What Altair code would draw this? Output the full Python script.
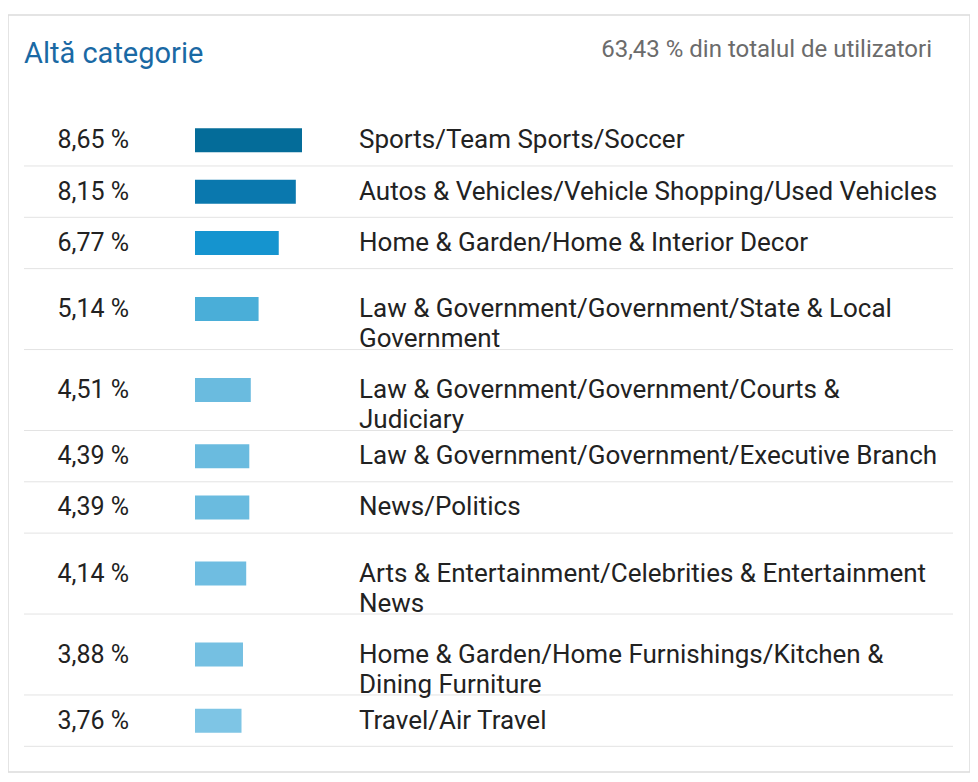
import altair as alt
import pandas as pd

pcts = [8.65, 8.15, 6.77, 5.14, 4.51, 4.39, 4.39, 4.14, 3.88, 3.76]
labels = [
    "Sports/Team Sports/Soccer",
    "Autos & Vehicles/Vehicle Shopping/Used Vehicles",
    "Home & Garden/Home & Interior Decor",
    "Law & Government/Government/State & Local\nGovernment",
    "Law & Government/Government/Courts &\nJudiciary",
    "Law & Government/Government/Executive Branch",
    "News/Politics",
    "Arts & Entertainment/Celebrities & Entertainment\nNews",
    "Home & Garden/Home Furnishings/Kitchen &\nDining Furniture",
    "Travel/Air Travel",
]
colors = ["#046c99", "#0a78ae", "#1594cf", "#4aaed8", "#6abbdf", "#6abbdf",
          "#6abbdf", "#6fbde1", "#75c0e2", "#7ec5e5"]

W, H = 962, 766  # drawing area inside the 8px page margin
FONT = "Roboto"

lines = [l.count("\n") + 1 for l in labels]
heights = [22 + 30 * n for n in lines]
tops = [103]
for h in heights[:-1]:
    tops.append(tops[-1] + h)
df = pd.DataFrame({
    "pct": pcts,
    "label": labels,
    "color": colors,
    "pct_txt": [f"{p:.2f} %".replace(".", ",") for p in pcts],
    "mid": [t + h / 2 for t, h in zip(tops, heights)],
    "bottom": [t + h for t, h in zip(tops, heights)],
})

ys = alt.Scale(domain=[0, H], range=[0, H])
base = alt.Chart(df)

frame = alt.Chart(pd.DataFrame({"a": [0]})).mark_rect(
    fill="white", stroke="#dcdcdc", strokeWidth=1.5
).encode(x=alt.value(0), x2=alt.value(962), y=alt.value(7), y2=alt.value(764))

title = alt.Chart(pd.DataFrame({"t": ["Altă categorie"]})).mark_text(
    font=FONT, fontSize=29, color="#1a69a4", align="left", baseline="middle"
).encode(text="t:N", x=alt.value(16), y=alt.value(46))

total = alt.Chart(pd.DataFrame({"t": ["63,43 % din totalul de utilizatori"]})).mark_text(
    font=FONT, fontSize=24, color="#6b6b6b", align="right", baseline="middle"
).encode(text="t:N", x=alt.value(924), y=alt.value(42))

seps = base.mark_rule(color="#e3e3e3", strokeWidth=1).encode(
    y=alt.Y("bottom:Q", scale=ys, axis=None), x=alt.value(16), x2=alt.value(945)
)

pct_text = base.mark_text(
    font=FONT, fontSize=25, color="#222", align="right", baseline="middle"
).encode(text="pct_txt:N", x=alt.value(121), y=alt.Y("mid:Q", scale=ys, axis=None))

bars = base.mark_bar(height=24, orient="horizontal").encode(
    x=alt.X("pct:Q", scale=alt.Scale(domain=[0, 8.65], range=[187, 294]), axis=None),
    x2=alt.value(187),
    y=alt.Y("mid:Q", scale=ys, axis=None),
    color=alt.Color("color:N", scale=None),
)

lab = base.mark_text(
    font=FONT, fontSize=26, color="#222", align="left", baseline="middle",
    lineBreak="\n", lineHeight=30
).encode(text="label:N", x=alt.value(351), y=alt.Y("mid:Q", scale=ys, axis=None))

chart = (
    alt.layer(frame, title, total, seps, pct_text, bars, lab)
    .resolve_scale(x="independent")
    .properties(width=W, height=H, padding=0, autosize="none")
    .configure_view(stroke=None)
)

chart.save("out.html", embed_options={"renderer": "svg", "actions": False})
